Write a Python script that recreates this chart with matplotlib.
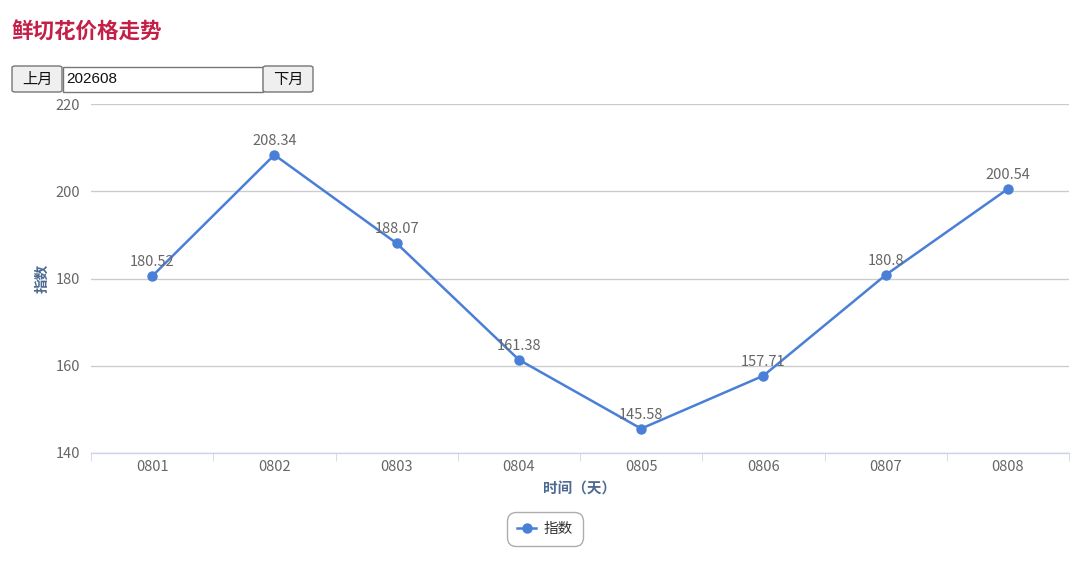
import matplotlib
matplotlib.use('Agg')
import matplotlib.pyplot as plt
from matplotlib.patches import FancyBboxPatch, Rectangle

plt.rcParams['font.family'] = ['Noto Sans CJK SC', 'DejaVu Sans']

days = ['0801', '0802', '0803', '0804', '0805', '0806', '0807', '0808']
index_values = [180.52, 208.34, 188.07, 161.38, 145.58, 157.71, 180.8, 200.54]
y_ticks = [140, 160, 180, 200, 220]
month_text = '202608'

W, H = 1080, 562
fig = plt.figure(figsize=(W / 100, H / 100), dpi=100)


def fx(px):
    return px / W


def fy(py):
    return 1 - py / H


ax = fig.add_axes([fx(91), fy(453), fx(1069) - fx(91), fy(104) - fy(453)])

line_color = '#4a7fd8'
x = list(range(len(days)))
ax.plot(x, index_values, color=line_color, lw=1.8, marker='o', ms=6.5, label='指数', zorder=3)
for xi, v in zip(x, index_values):
    ax.annotate(f'{v:g}', (xi, v), xytext=(0, 5), textcoords='offset points',
                ha='center', va='bottom', fontsize=10.5, color='#666666', zorder=4)

ax.set_xlim(-0.5, len(days) - 0.5)
ax.set_ylim(140, 220)
ax.set_yticks(y_ticks)
ax.set_xticks(x)
ax.set_xticklabels(days)
ax.set_xticks([i + 0.5 for i in range(-1, len(days))], minor=True)
ax.tick_params(axis='x', which='major', length=0, pad=5, labelsize=10.5, labelcolor='#666666')
ax.tick_params(axis='x', which='minor', length=6, color='#ccd6eb', direction='out')
ax.tick_params(axis='y', length=0, pad=8, labelsize=10.5, labelcolor='#666666')
ax.grid(axis='y', color='#cccccc', lw=1)
ax.set_axisbelow(True)
for s in ['top', 'right', 'left']:
    ax.spines[s].set_visible(False)
ax.spines['bottom'].set_color('#ccd6eb')
ax.spines['bottom'].set_linewidth(1)

ax.set_ylabel('指数', fontsize=10.5, fontweight='bold', color='#4d6a92', labelpad=4)
ax.set_xlabel('时间（天）', fontsize=10.5, fontweight='bold', color='#4d6a92', labelpad=5)

leg = ax.legend(loc='center', bbox_to_anchor=(fx(545), fy(529)), bbox_transform=fig.transFigure,
                frameon=True, fancybox=True, fontsize=10.5, handlelength=1.3,
                borderpad=0.7, handletextpad=0.5, edgecolor='#999999', labelcolor='#333333')
leg.get_frame().set_linewidth(1)
leg.get_frame().set_boxstyle('round,pad=0,rounding_size=0.6')

# page title
fig.text(fx(12), fy(32), '鲜切花价格走势', fontsize=15.5, fontweight='bold', color='#c41f46',
         ha='left', va='center')

# month switcher controls
def button(x0, x1, label):
    b = FancyBboxPatch((fx(x0), fy(92)), fx(x1) - fx(x0), fy(66) - fy(92),
                       boxstyle='round,pad=0,rounding_size=0.003', transform=fig.transFigure,
                       facecolor='#efefef', edgecolor='#767676', lw=1)
    fig.add_artist(b)
    fig.text(fx((x0 + x1) / 2), fy(79), label, fontsize=11, color='#111111', ha='center', va='center')


button(12, 62, '上月')
box = Rectangle((fx(63), fy(92)), fx(263) - fx(63), fy(67) - fy(92), transform=fig.transFigure,
                facecolor='white', edgecolor='#767676', lw=1)
fig.add_artist(box)
fig.text(fx(66), fy(79), month_text, fontsize=11, color='#111111', ha='left', va='center',
         family=['Arial', 'Liberation Sans', 'DejaVu Sans'])
button(263, 313, '下月')

fig.savefig('out.png', dpi=100)
